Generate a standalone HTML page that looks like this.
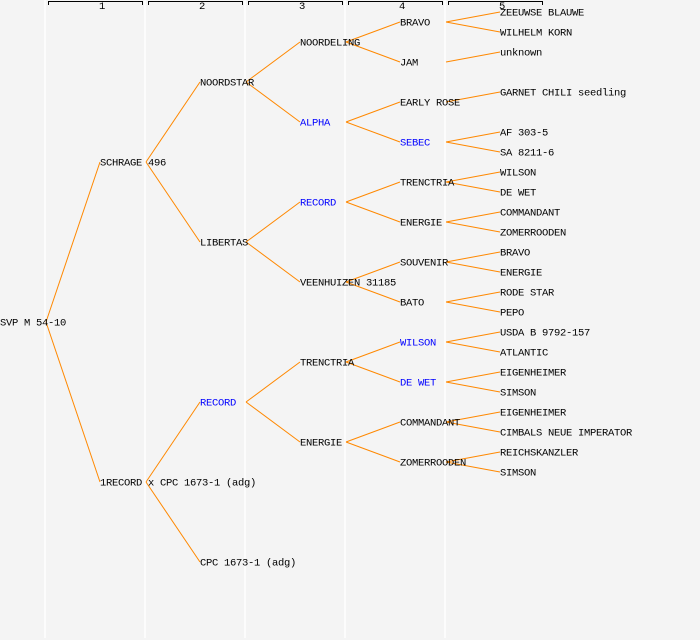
<!DOCTYPE html>
<html><head><meta charset="utf-8"><style>
html,body{margin:0;padding:0;background:#f4f4f4;}
svg{display:block;}
text{font-family:"Liberation Mono","DejaVu Sans Mono",monospace;font-size:10.5px;letter-spacing:-0.3px;fill:#000;}
.b{fill:#0000ff;}
line.e{stroke:#ff8800;stroke-width:1;}
</style></head><body>
<svg width="700" height="640" xmlns="http://www.w3.org/2000/svg">
<rect width="700" height="640" fill="#f4f4f4"/>
<g stroke="#ffffff" stroke-width="1.5">
<line x1="45" y1="0" x2="45" y2="638"/><line x1="145" y1="0" x2="145" y2="638"/>
<line x1="245" y1="0" x2="245" y2="638"/><line x1="345" y1="0" x2="345" y2="638"/>
<line x1="445" y1="0" x2="445" y2="638"/>
</g>
<g stroke="#000" stroke-width="1" fill="none">
<path d="M48.5 5V1.5H142.5V5"/><path d="M148.5 5V1.5H242.5V5"/><path d="M248.5 5V1.5H342.5V5"/>
<path d="M348.5 5V1.5H442.5V5"/><path d="M448.5 5V1.5H542.5V5"/>
</g>
<g style="font-size:8px" text-anchor="middle">
<text x="102" y="9">1</text><text x="202" y="9">2</text><text x="302" y="9">3</text><text x="402" y="9">4</text><text x="502" y="9">5</text>
</g>
<g class="edges">
<line class="e" x1="46" y1="322" x2="100" y2="162"/><line class="e" x1="46" y1="322" x2="100" y2="482"/>
<line class="e" x1="146" y1="162" x2="200" y2="82"/><line class="e" x1="146" y1="162" x2="200" y2="242"/>
<line class="e" x1="146" y1="482" x2="200" y2="402"/><line class="e" x1="146" y1="482" x2="200" y2="562"/>
<line class="e" x1="246" y1="82" x2="300" y2="42"/><line class="e" x1="246" y1="82" x2="300" y2="122"/>
<line class="e" x1="246" y1="242" x2="300" y2="202"/><line class="e" x1="246" y1="242" x2="300" y2="282"/>
<line class="e" x1="246" y1="402" x2="300" y2="362"/><line class="e" x1="246" y1="402" x2="300" y2="442"/>
<line class="e" x1="346" y1="42" x2="400" y2="22"/><line class="e" x1="346" y1="42" x2="400" y2="62"/>
<line class="e" x1="346" y1="122" x2="400" y2="102"/><line class="e" x1="346" y1="122" x2="400" y2="142"/>
<line class="e" x1="346" y1="202" x2="400" y2="182"/><line class="e" x1="346" y1="202" x2="400" y2="222"/>
<line class="e" x1="346" y1="282" x2="400" y2="262"/><line class="e" x1="346" y1="282" x2="400" y2="302"/>
<line class="e" x1="346" y1="362" x2="400" y2="342"/><line class="e" x1="346" y1="362" x2="400" y2="382"/>
<line class="e" x1="346" y1="442" x2="400" y2="422"/><line class="e" x1="346" y1="442" x2="400" y2="462"/>
<line class="e" x1="446" y1="22" x2="500" y2="12"/><line class="e" x1="446" y1="22" x2="500" y2="32"/>
<line class="e" x1="446" y1="62" x2="500" y2="52"/>
<line class="e" x1="446" y1="102" x2="500" y2="92"/>
<line class="e" x1="446" y1="142" x2="500" y2="132"/><line class="e" x1="446" y1="142" x2="500" y2="152"/>
<line class="e" x1="446" y1="182" x2="500" y2="172"/><line class="e" x1="446" y1="182" x2="500" y2="192"/>
<line class="e" x1="446" y1="222" x2="500" y2="212"/><line class="e" x1="446" y1="222" x2="500" y2="232"/>
<line class="e" x1="446" y1="262" x2="500" y2="252"/><line class="e" x1="446" y1="262" x2="500" y2="272"/>
<line class="e" x1="446" y1="302" x2="500" y2="292"/><line class="e" x1="446" y1="302" x2="500" y2="312"/>
<line class="e" x1="446" y1="342" x2="500" y2="332"/><line class="e" x1="446" y1="342" x2="500" y2="352"/>
<line class="e" x1="446" y1="382" x2="500" y2="372"/><line class="e" x1="446" y1="382" x2="500" y2="392"/>
<line class="e" x1="446" y1="422" x2="500" y2="412"/><line class="e" x1="446" y1="422" x2="500" y2="432"/>
<line class="e" x1="446" y1="462" x2="500" y2="452"/><line class="e" x1="446" y1="462" x2="500" y2="472"/>
</g>
<g transform="translate(0,-0.5)">
<text x="0" y="326">SVP M 54-10</text>
<text x="100" y="166">SCHRAGE 496</text>
<text x="100" y="486">1RECORD x CPC 1673-1 (adg)</text>
<text x="200" y="86">NOORDSTAR</text>
<text x="200" y="246">LIBERTAS</text>
<text x="200" y="406" class="b">RECORD</text>
<text x="200" y="566">CPC 1673-1 (adg)</text>
<text x="300" y="46">NOORDELING</text>
<text x="300" y="126" class="b">ALPHA</text>
<text x="300" y="206" class="b">RECORD</text>
<text x="300" y="286">VEENHUIZEN 31185</text>
<text x="300" y="366">TRENCTRIA</text>
<text x="300" y="446">ENERGIE</text>
<text x="400" y="26">BRAVO</text>
<text x="400" y="66">JAM</text>
<text x="400" y="106">EARLY ROSE</text>
<text x="400" y="146" class="b">SEBEC</text>
<text x="400" y="186">TRENCTRIA</text>
<text x="400" y="226">ENERGIE</text>
<text x="400" y="266">SOUVENIR</text>
<text x="400" y="306">BATO</text>
<text x="400" y="346" class="b">WILSON</text>
<text x="400" y="386" class="b">DE WET</text>
<text x="400" y="426">COMMANDANT</text>
<text x="400" y="466">ZOMERROODEN</text>
<text x="500" y="16">ZEEUWSE BLAUWE</text>
<text x="500" y="36">WILHELM KORN</text>
<text x="500" y="56">unknown</text>
<text x="500" y="96">GARNET CHILI seedling</text>
<text x="500" y="136">AF 303-5</text>
<text x="500" y="156">SA 8211-6</text>
<text x="500" y="176">WILSON</text>
<text x="500" y="196">DE WET</text>
<text x="500" y="216">COMMANDANT</text>
<text x="500" y="236">ZOMERROODEN</text>
<text x="500" y="256">BRAVO</text>
<text x="500" y="276">ENERGIE</text>
<text x="500" y="296">RODE STAR</text>
<text x="500" y="316">PEPO</text>
<text x="500" y="336">USDA B 9792-157</text>
<text x="500" y="356">ATLANTIC</text>
<text x="500" y="376">EIGENHEIMER</text>
<text x="500" y="396">SIMSON</text>
<text x="500" y="416">EIGENHEIMER</text>
<text x="500" y="436">CIMBALS NEUE IMPERATOR</text>
<text x="500" y="456">REICHSKANZLER</text>
<text x="500" y="476">SIMSON</text>
</g>
</svg>
</body></html>
